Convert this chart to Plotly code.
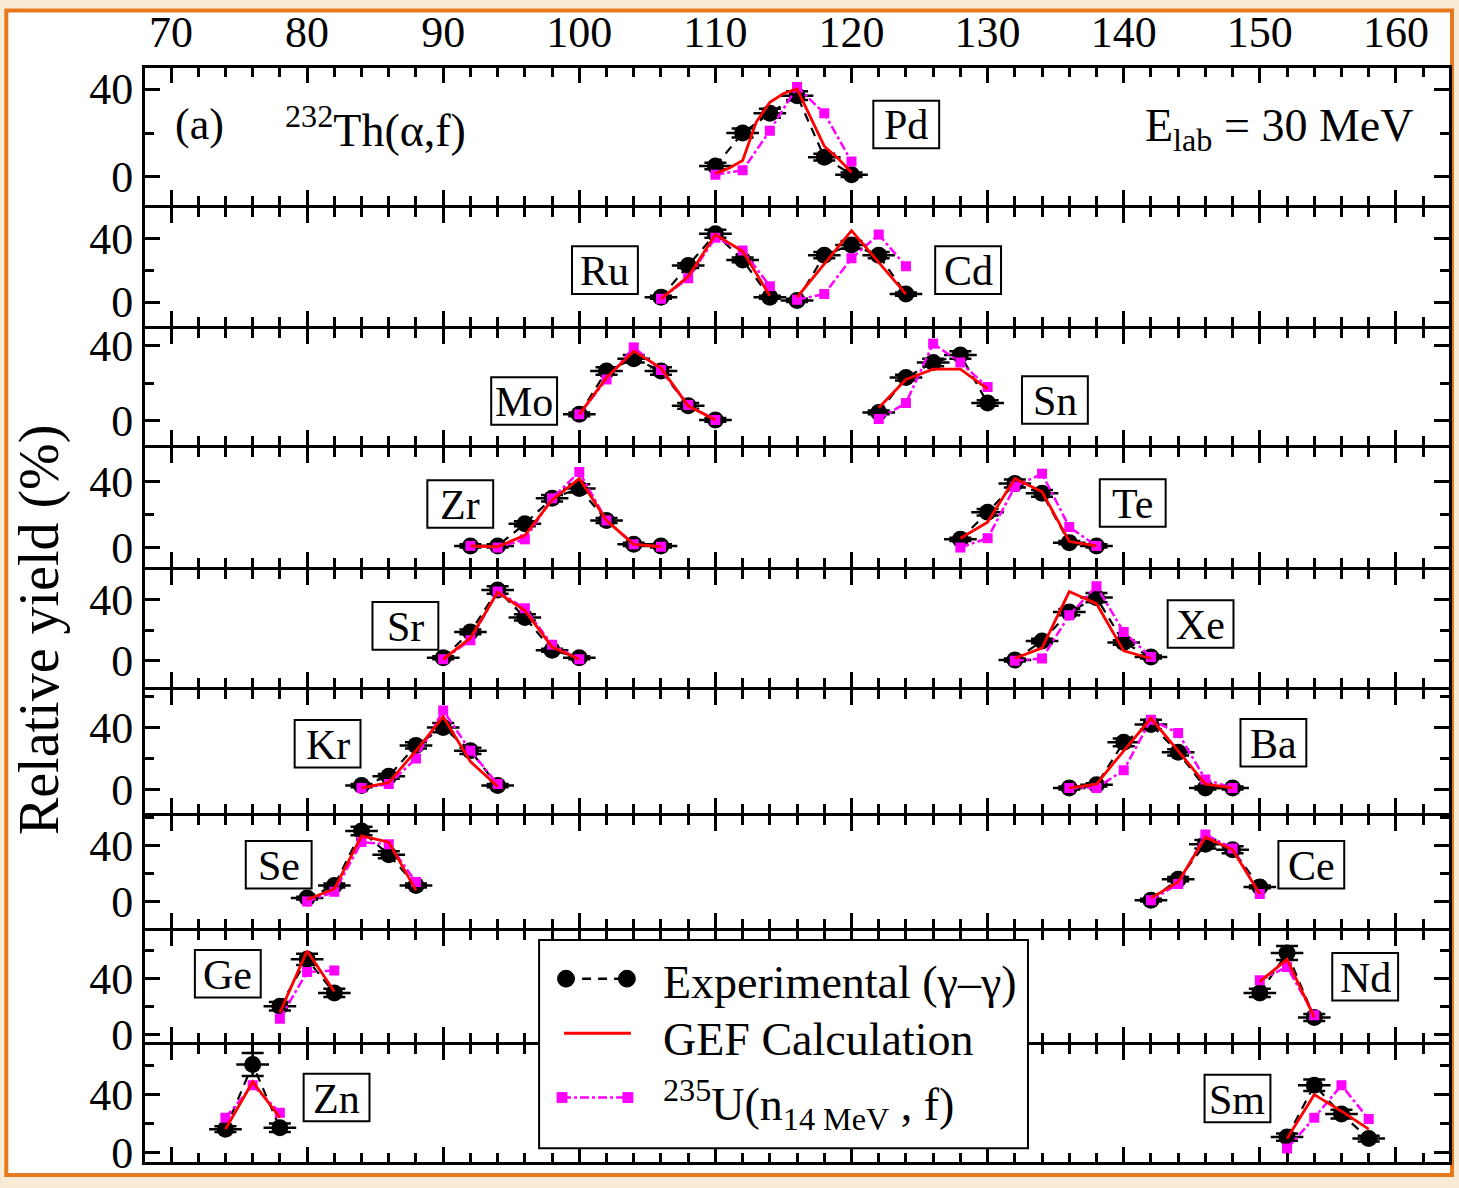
import plotly.graph_objects as go

# ---------------- data (mass number A, relative yield %) ----------------
PD_A = [110, 112, 114, 116, 118, 120]
PD_EXP = [5, 20, 29, 37, 9, 1]
PD_ERR = [1.5, 2, 2, 2, 1.5, 1]
PD_GEF_A = [110, 111, 112, 113, 114, 115, 116, 117, 118, 119, 120]
PD_GEF = [1.5, 4, 7.5, 25, 34, 38, 40, 27, 14, 8.5, 2]
PD_U235 = [1, 3, 21, 41, 29, 7]

RU_A = [106, 108, 110, 112, 114]
RU_EXP = [3, 23, 43, 26.5, 3]
RU_ERR = [1, 1.5, 2.5, 1.5, 1]
RU_GEF = [2, 16, 42.5, 32, 4]
RU_U235 = [2, 15, 40.5, 32.5, 10]

CD_A = [116, 118, 120, 122, 124]
CD_EXP = [1, 29.5, 36, 29.5, 5]
CD_ERR = [1, 2, 2.5, 2, 1]
CD_GEF = [3, 24, 45, 25, 5]
CD_U235 = [1.5, 5, 27.5, 42.5, 22.5]

MO_A = [100, 102, 104, 106, 108, 110]
MO_EXP = [3.5, 26.5, 33, 26.5, 8, 0.5]
MO_ERR = [1, 2, 2, 2, 1.5, 1]
MO_GEF = [3.5, 23, 37, 28, 8, 0.5]
MO_U235 = [3.5, 22, 39, 27, 8.5, 0.5]

SN_A = [122, 124, 126, 128, 130]
SN_EXP = [4.5, 23, 31, 35, 9.5]
SN_ERR = [1, 1.5, 2, 2, 1.5]
SN_GEF = [7, 22, 27.5, 27.5, 17]
SN_U235 = [1, 9.5, 41, 31, 18]

ZR_A = [92, 94, 96, 98, 100, 102, 104, 106]
ZR_EXP = [1, 1, 14.5, 30, 36, 16.5, 2, 1]
ZR_ERR = [1, 1, 1.5, 2, 2.5, 1.5, 1, 1]
ZR_GEF = [1, 0.5, 7.5, 29, 42, 16.5, 2, 0.5]
ZR_U235 = [1, 0, 5, 30, 46, 16.5, 2, 0.5]

TE_A = [128, 130, 132, 134, 136, 138]
TE_EXP = [5, 21.5, 39, 33, 3, 1]
TE_ERR = [1, 2, 2.5, 2, 1, 1]
TE_GEF = [5.7, 15.5, 42, 34, 3.7, 1]
TE_U235 = [0, 5.7, 37, 45, 12.5, 1]

SR_A = [90, 92, 94, 96, 98, 100]
SR_EXP = [2, 19, 46.5, 28.5, 7, 2]
SR_ERR = [1, 1.5, 2.5, 2, 1, 1]
SR_GEF = [1, 15, 45, 33, 9, 1]
SR_U235 = [1, 13.5, 45.5, 34.5, 10.5, 1]

XE_A = [132, 134, 136, 138, 140, 142]
XE_EXP = [0.5, 13, 32, 41.5, 12, 2.5]
XE_ERR = [1, 1.5, 2, 3, 1.5, 1]
XE_GEF = [1.5, 8.5, 45.5, 37.5, 6.5, 1.5]
XE_U235 = [0, 1.5, 30, 49, 19, 2.5]

KR_A = [84, 86, 88, 90, 92, 94]
KR_EXP = [2.5, 8.5, 28.5, 40, 25, 2.5]
KR_ERR = [1, 1.5, 2, 3, 2, 1]
KR_GEF = [1, 4.5, 25, 47, 18, 2]
KR_U235 = [1, 3.5, 20, 51, 25, 3.5]

BA_A = [136, 138, 140, 142, 144, 146, 148]
BA_EXP = [1, 3, 30.5, 42, 24, 1, 1]
BA_ERR = [1, 1, 2.5, 3, 2, 1, 1]
BA_GEF = [1, 3.5, 25, 46, 25, 3.5, 1]
BA_U235 = [1, 1, 12.5, 45, 36.5, 6.5, 1]

SE_A = [80, 82, 84, 86, 88]
SE_EXP = [2.5, 11.5, 50.5, 33.5, 11.5]
SE_ERR = [1, 1.5, 3, 2.5, 1.5]
SE_GEF = [1.5, 9, 47, 42.5, 8]
SE_U235 = [0, 7, 42.5, 41, 14]

CE_A = [142, 144, 146, 148, 150]
CE_EXP = [1, 16, 41, 37, 10.5]
CE_ERR = [1, 1.5, 3, 2.5, 1]
CE_GEF = [2.5, 14, 46, 37, 5.5]
CE_U235 = [1, 12.5, 48, 38, 5.5]

GE_A = [78, 80, 82]
GE_EXP = [20.5, 54, 30]
GE_ERR = [3, 4, 3]
GE_GEF = [16, 60, 31]
GE_U235 = [11.5, 45, 46]

ND_A = [150, 152, 154]
ND_EXP = [30, 58.5, 12.5]
ND_ERR = [3, 5, 2.5]
ND_GEF = [38, 54, 12.5]
ND_U235 = [39, 48.5, 14]

ZN_A = [74, 76, 78]
ZN_EXP = [16, 61, 17]
ZN_ERR = [2, 8, 3]
ZN_GEF = [16, 49, 24]
ZN_U235 = [24, 46.5, 27.5]

SM_A = [152, 154, 156, 158]
SM_EXP = [10.5, 46.5, 26.5, 9.5]
SM_ERR = [2.5, 4, 3, 2]
SM_GEF = [9.5, 40, 28.5, 16]
SM_U235 = [2.5, 24, 46.5, 23]

X_TICKS = [70, 80, 90, 100, 110, 120, 130, 140, 150, 160]
Y_TICKS = [0, 40]

# (label, panel, A, exp, err, gefA, gef, u235)
ELEMENTS = [
    ("Pd", 0, PD_A, PD_EXP, PD_ERR, PD_GEF_A, PD_GEF, PD_U235),
    ("Ru", 1, RU_A, RU_EXP, RU_ERR, RU_A, RU_GEF, RU_U235),
    ("Cd", 1, CD_A, CD_EXP, CD_ERR, CD_A, CD_GEF, CD_U235),
    ("Mo", 2, MO_A, MO_EXP, MO_ERR, MO_A, MO_GEF, MO_U235),
    ("Sn", 2, SN_A, SN_EXP, SN_ERR, SN_A, SN_GEF, SN_U235),
    ("Zr", 3, ZR_A, ZR_EXP, ZR_ERR, ZR_A, ZR_GEF, ZR_U235),
    ("Te", 3, TE_A, TE_EXP, TE_ERR, TE_A, TE_GEF, TE_U235),
    ("Sr", 4, SR_A, SR_EXP, SR_ERR, SR_A, SR_GEF, SR_U235),
    ("Xe", 4, XE_A, XE_EXP, XE_ERR, XE_A, XE_GEF, XE_U235),
    ("Kr", 5, KR_A, KR_EXP, KR_ERR, KR_A, KR_GEF, KR_U235),
    ("Ba", 5, BA_A, BA_EXP, BA_ERR, BA_A, BA_GEF, BA_U235),
    ("Se", 6, SE_A, SE_EXP, SE_ERR, SE_A, SE_GEF, SE_U235),
    ("Ce", 6, CE_A, CE_EXP, CE_ERR, CE_A, CE_GEF, CE_U235),
    ("Ge", 7, GE_A, GE_EXP, GE_ERR, GE_A, GE_GEF, GE_U235),
    ("Nd", 7, ND_A, ND_EXP, ND_ERR, ND_A, ND_GEF, ND_U235),
    ("Zn", 8, ZN_A, ZN_EXP, ZN_ERR, ZN_A, ZN_GEF, ZN_U235),
    ("Sm", 8, SM_A, SM_EXP, SM_ERR, SM_A, SM_GEF, SM_U235),
]

# ---------------- layout geometry (pixels) ----------------
W, H = 1459, 1188
ML, MR, MT, MB = 145, 7, 68, 16
PW = W - ML - MR
PH = H - MT - MB
BOUNDS = [68, 208, 330, 450, 573, 694, 821, 937, 1052, 1172]
YRANGES = [[-12.9, 49.6], [-15.2, 59.1], [-12.8, 48.7], [-11.8, 60.6],
           [-17.1, 59.7], [-15.0, 64.4], [-18.6, 61.4], [-4.8, 74.5], [-6.8, 74.8]]
XRANGE = [68.09, 163.9]
LW = 3  # axis line width

# label box centres (px)
BOXES = {"Pd": (908, 125), "Ru": (606, 272), "Cd": (970, 272), "Mo": (525, 404),
         "Sn": (1057, 403), "Zr": (461, 508), "Te": (1135, 507), "Sr": (406, 631),
         "Xe": (1203, 629), "Kr": (328, 750), "Ba": (1276, 749), "Se": (279, 872),
         "Ce": (1314, 872), "Ge": (228, 982), "Nd": (1368, 985), "Zn": (337, 1107),
         "Sm": (1240, 1108)}

FONT = "Liberation Serif"
MAGENTA = "#FF00FF"
RED = "#FF0000"


def px(x):
    return (x - ML) / PW


def py(y):
    return (H - MB - y) / PH


fig = go.Figure()

for name, p, A, exp, err, gA, gef, u in ELEMENTS:
    suf = "" if p == 0 else str(p + 1)
    xa, ya = "x" + suf, "y" + suf
    fig.add_trace(go.Scatter(
        x=A, y=exp, xaxis=xa, yaxis=ya, mode="lines+markers",
        line=dict(color="black", width=2.2, dash="9px,7px"),
        marker=dict(symbol="circle", size=17, color="black"),
        error_x=dict(type="constant", value=1.2, width=0, thickness=2.5, color="black"),
        error_y=dict(type="data", array=err, width=11, thickness=2.5, color="black"),
        showlegend=False, hoverinfo="skip"))
    fig.add_trace(go.Scatter(
        x=A, y=u, xaxis=xa, yaxis=ya, mode="lines+markers",
        line=dict(color=MAGENTA, width=2.5, dash="dashdot"),
        marker=dict(symbol="square", size=10, color=MAGENTA),
        showlegend=False, hoverinfo="skip"))
    fig.add_trace(go.Scatter(
        x=gA, y=gef, xaxis=xa, yaxis=ya, mode="lines",
        line=dict(color=RED, width=2.8),
        showlegend=False, hoverinfo="skip"))

tickfont = dict(family=FONT, size=44, color="black")
layout = dict(
    width=W, height=H,
    margin=dict(l=ML, r=MR, t=MT, b=MB, pad=0),
    paper_bgcolor="#FAEBD7", plot_bgcolor="rgba(0,0,0,0)",
    showlegend=False,
    font=dict(family=FONT, color="black"),
)
for i in range(9):
    suf = "" if i == 0 else str(i + 1)
    # shrink interior edges by half a line width so neighbouring axis lines coincide
    top_px = BOUNDS[i] + (LW / 2 if i > 0 else 0)
    bot_px = BOUNDS[i + 1] - (LW / 2 if i < 8 else 0)
    layout["xaxis" + suf] = dict(
        domain=[0, 1], range=XRANGE, anchor="y" + suf,
        showline=True, linecolor="black", linewidth=LW, mirror="allticks",
        ticks="inside", ticklen=15, tickwidth=3, tickcolor="black",
        tickmode="array", tickvals=X_TICKS,
        minor=dict(dtick=2, tick0=70, ticks="inside", ticklen=9, tickwidth=2.5, tickcolor="black"),
        showgrid=False, zeroline=False,
        showticklabels=(i == 0), side="top" if i == 0 else "bottom",
        tickfont=tickfont, fixedrange=True,
    )
    layout["yaxis" + suf] = dict(
        domain=[py(bot_px), py(top_px)], range=YRANGES[i], anchor="x" + suf,
        showline=True, linecolor="black", linewidth=LW, mirror="allticks",
        ticks="inside", ticklen=15, tickwidth=3, tickcolor="black",
        tickmode="array", tickvals=Y_TICKS,
        minor=dict(dtick=20, tick0=0, ticks="inside", ticklen=9, tickwidth=2.5, tickcolor="black"),
        showgrid=False, zeroline=False, tickfont=tickfont, fixedrange=True,
    )
fig.update_layout(**layout)

shapes = []
# outer frame
shapes.append(dict(type="rect", xref="paper", yref="paper", layer="below",
                   x0=px(6), x1=px(1455), y0=py(1185), y1=py(10),
                   line=dict(color="#E6781E", width=4), fillcolor="white"))
# element boxes
for name, (cx, cy) in BOXES.items():
    shapes.append(dict(type="rect", xref="paper", yref="paper", layer="above",
                       x0=px(cx - 33), x1=px(cx + 33), y0=py(cy + 24), y1=py(cy - 24),
                       line=dict(color="black", width=2)))
# legend box
shapes.append(dict(type="rect", xref="paper", yref="paper", layer="above",
                   x0=px(540), x1=px(1030), y0=py(1158), y1=py(948),
                   line=dict(color="black", width=2), fillcolor="white"))
# legend samples
ly1, ly2, ly3 = 987, 1042, 1107
shapes.append(dict(type="line", xref="paper", yref="paper", layer="above",
                   x0=px(567), x1=px(628), y0=py(ly1), y1=py(ly1),
                   line=dict(color="black", width=2.5, dash="9px,7px")))
for cx in (567, 628):
    shapes.append(dict(type="circle", xref="paper", yref="paper", layer="above",
                       x0=px(cx - 8.5), x1=px(cx + 8.5), y0=py(ly1 + 8.5), y1=py(ly1 - 8.5),
                       line=dict(color="black", width=1), fillcolor="black"))
shapes.append(dict(type="line", xref="paper", yref="paper", layer="above",
                   x0=px(565), x1=px(632), y0=py(ly2), y1=py(ly2),
                   line=dict(color=RED, width=3)))
shapes.append(dict(type="line", xref="paper", yref="paper", layer="above",
                   x0=px(563), x1=px(629), y0=py(ly3), y1=py(ly3),
                   line=dict(color=MAGENTA, width=2.5, dash="dashdot")))
for cx in (563, 629):
    shapes.append(dict(type="rect", xref="paper", yref="paper", layer="above",
                       x0=px(cx - 5), x1=px(cx + 5), y0=py(ly3 + 5), y1=py(ly3 - 5),
                       line=dict(color=MAGENTA, width=1), fillcolor=MAGENTA))
fig.update_layout(shapes=shapes)

ann = []


def text(x, y, s, size=44, xanchor="center", yanchor="middle", angle=0):
    ann.append(dict(xref="paper", yref="paper", x=px(x), y=py(y), text=s,
                    showarrow=False, xanchor=xanchor, yanchor=yanchor, textangle=angle,
                    font=dict(family=FONT, size=size, color="black")))


for name, (cx, cy) in BOXES.items():
    text(cx, cy + 1, name, size=42)
text(200, 125, "(a)", size=44)
text(283, 128, "<sup>232</sup>Th(α,f)", size=46, xanchor="left")
text(1418, 130, "E<sub>lab</sub> = 30 MeV", size=46, xanchor="right")
text(40, 635, "Relative yield (%)", size=56, angle=-90)
text(662, 991, "Experimental (γ–γ)", size=46, xanchor="left")
text(662, 1048, "GEF Calculation", size=46, xanchor="left")
text(662, 1114, "<sup>235</sup>U(n<sub>14 MeV</sub> , f)", size=46, xanchor="left")
fig.update_layout(annotations=ann)

fig.write_html("out.html")
